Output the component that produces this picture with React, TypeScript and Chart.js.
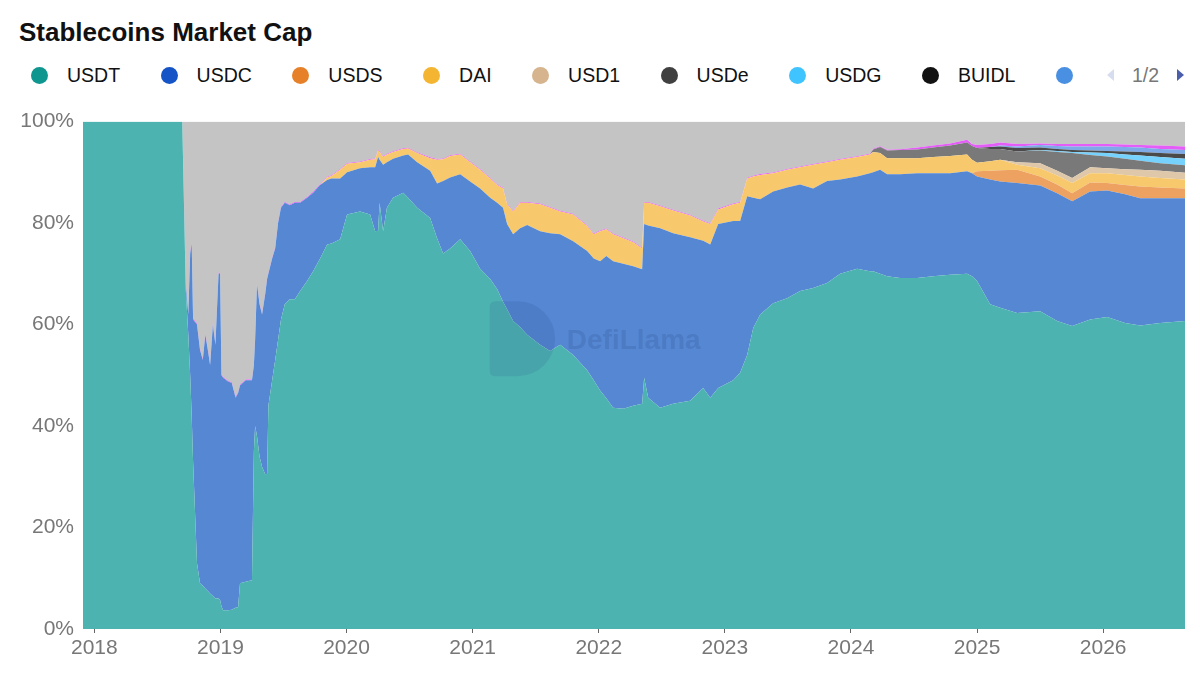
import React, { useEffect, useRef } from "react";
import { Chart, registerables } from "chart.js";

Chart.register(...registerables);

const FONT = '"Liberation Sans", Arial, Helvetica, sans-serif';

// x positions as decimal years
const years = [
  2017.91, 2018.697, 2018.725, 2018.745, 2018.76, 2018.772, 2018.783, 2018.814, 2018.838, 2018.86,
  2018.88, 2018.9, 2018.918, 2018.94, 2018.96, 2018.985, 2018.997, 2019.008, 2019.021, 2019.06,
  2019.09, 2019.12, 2019.14, 2019.155, 2019.2, 2019.25, 2019.265, 2019.275, 2019.29, 2019.31,
  2019.33, 2019.355, 2019.37, 2019.38, 2019.41, 2019.434, 2019.457, 2019.48, 2019.51, 2019.55,
  2019.59, 2019.632, 2019.687, 2019.735, 2019.79, 2019.846, 2019.88, 2019.949, 2020.004, 2020.107,
  2020.187, 2020.227, 2020.25, 2020.262, 2020.29, 2020.32, 2020.369, 2020.449, 2020.488, 2020.56,
  2020.663, 2020.718, 2020.766, 2020.821, 2020.901, 2020.98, 2021.059, 2021.139, 2021.194, 2021.241,
  2021.273, 2021.321, 2021.376, 2021.432, 2021.535, 2021.614, 2021.694, 2021.797, 2021.908, 2021.96,
  2022.011, 2022.06, 2022.114, 2022.194, 2022.273, 2022.344, 2022.36, 2022.392, 2022.487, 2022.59,
  2022.725, 2022.828, 2022.884, 2022.947, 2023.066, 2023.121, 2023.177, 2023.225, 2023.28, 2023.383,
  2023.494, 2023.597, 2023.7, 2023.811, 2023.914, 2024.049, 2024.15, 2024.176, 2024.231, 2024.287,
  2024.39, 2024.525, 2024.651, 2024.786, 2024.921, 2024.96, 2025.0, 2025.104, 2025.183, 2025.318,
  2025.5, 2025.635, 2025.754, 2025.897, 2026.031, 2026.174, 2026.293, 2026.452, 2026.649,
];

const xMin = 2017.91;
const xMax = 2026.649;
const yearTicks = [2018, 2019, 2020, 2021, 2022, 2023, 2024, 2025, 2026];
const percentTicks = [0, 20, 40, 60, 80, 100];

// shares in %
const USDT = [
  100, 100, 67, 58, 50, 42, 33, 13, 9, 8.5,
  8, 7.5, 7, 6.5, 6, 6, 5.7, 4.5, 3.7, 3.7,
  3.8, 4.2, 4.3, 9, 9.3, 9.6, 35, 40, 38, 34,
  32, 30.5, 30.6, 44, 49, 53, 57, 61, 64, 65,
  65, 66.6, 68.6, 70.5, 73, 75.8, 76, 76.8, 81.7, 82.3,
  81.7, 78.4, 78.5, 84, 78.4, 83, 85, 86, 85, 83,
  81, 77, 74, 75, 76.8, 74.5, 71, 69, 67, 64.5,
  63, 60.7, 59.5, 58, 56, 54.8, 56, 54, 51, 49,
  47, 45.5, 43.6, 43.4, 44, 44.4, 49.5, 45.6, 43.6, 44.4,
  45, 47.5, 45.6, 47.5, 49, 50.5, 54, 59.3, 62, 64.2,
  65.2, 66.6, 67.2, 68.2, 70, 71, 70.5, 70.5, 70, 69.5,
  69.2, 69.2, 69.5, 69.8, 70, 69.5, 68.6, 64, 63.3, 62.3,
  62.6, 60.7, 59.7, 61, 61.5, 60.3, 59.8, 60.3, 60.7,
];

const USDC = [
  0, 0, 1, 4, 24, 34, 28, 47, 46, 44.5,
  50, 47.5, 45, 53.5, 50, 64, 64.3, 45.5, 45.8, 45.1,
  44.7, 41.4, 42.2, 39, 39.7, 39.4, 17, 17, 30, 30,
  30, 35.5, 38.4, 26, 24, 22, 23, 22, 20, 18.5,
  19, 17.4, 16.4, 15.5, 14.5, 12.7, 12.8, 12, 8.3, 8.5,
  9.3, 12.6, 14.5, 8.5, 13.1, 9, 7.7, 7.3, 8.5, 9,
  9.3, 10.8, 14.3, 14, 12.8, 13.7, 15.8, 16, 17, 18.5,
  16.8, 17.1, 19.5, 21.6, 22.4, 23.2, 21.8, 22.4, 23.5, 24,
  25.5, 28, 28.9, 28.6, 27.5, 26.5, 30.3, 33.9, 35.4, 33.6,
  32.2, 29, 30.2, 32.3, 31.4, 29.9, 31.3, 25.7, 22.7, 22,
  21.8, 21, 19.6, 20.1, 18.6, 18.2, 19.3, 19.5, 20.5, 20.1,
  20.4, 20.6, 20.3, 20, 20.2, 20.3, 20.6, 24.6, 24.9, 25.6,
  24.8, 25.2, 24.6, 25.2, 24.9, 25.4, 25.1, 24.6, 24.2,
];

// series that only exist for the most recent dates (earlier dates are zero)
const USDS_RECENT = [1, 1.7, 2.2, 2.6, 1.8, 1.7, 1.6, 1.8, 1.5, 1.8, 2.3, 2.1, 1.9];
const DAI_RECENT = [
  0.5, 0.5, 1.7, 1.7, 1.2, 1.5, 1.6, 1.3, 1.5, 1.5,
  1.5, 1.3, 1.3, 1.2, 1.8, 2.5, 4.7, 4.3, 4.2, 3.9,
  3.8, 3.7, 3.8, 3.5, 3.8, 3.9, 4.5, 5, 4.4, 5.3,
  5, 4.5, 5.3, 4.9, 4.8, 5.9, 5.3, 5.3, 5, 4.7,
  4.1, 4.2, 4.5, 4.3, 4.5, 4.3, 3.8, 4, 2.9, 3.3,
  3.6, 3.5, 4.2, 4.8, 3.6, 3.5, 3.4, 4.7, 3.7, 3.9,
  3.8, 3.7, 4, 3.3, 3.2, 3.2, 3, 3.2, 3.4, 3.3,
  2.7, 1.7, 1.9, 2.1, 1, 1.6, 1.8, 2, 1.8, 1.9,
  2, 2, 1.9, 1.8,
];
const USD1_RECENT = [0.5, 1, 0.9, 1, 1.2, 1, 1.1, 1.3, 1.4, 1.3];
const USDE_RECENT = [
  0.5, 1.2, 1.5, 1.6, 1.7, 1.9, 2.1, 2.4, 2.7, 2.9,
  2.4, 2.1, 2.1, 2.5, 3.7, 4.9, 2.4, 2.3, 2.1, 1.8,
  1.5, 1.5,
];
const USDG_RECENT = [0.1, 0.2, 0.2, 0.5, 0.7, 0.8, 1, 1.2, 1.3];
const BUIDL_RECENT = [0.4, 0.5, 0.7, 0.5, 0.4, 0.4, 0.4, 0.4, 0.6, 0.7, 0.8, 0.9];
const PYUSD_RECENT = [0.2, 0.3, 0.5, 0.6, 0.7, 0.8, 0.9, 0.9, 0.9, 0.8, 0.8];

const FDUSD = [
  0, 0,
  0.2, 0.2, 0.2, 0.2, 0.2, 0.2, 0.2, 0.2, 0.2, 0.2, 0.2, 0.2, 0.2, 0.2, 0.2,
  0.15, 0.15, 0.15, 0.15, 0.15, 0.15, 0.15, 0.15, 0.15, 0.15,
  0.15, 0.15, 0.15, 0.15, 0.15, 0.15, 0.15, 0.15, 0.15, 0.15,
  0.15, 0.15, 0.15, 0.15, 0.15, 0.15, 0.15, 0.15, 0.15, 0.15,
  0.15, 0.15, 0.15, 0.15, 0.15, 0.15, 0.15, 0.15, 0.15, 0.15,
  0.15, 0.15, 0.15, 0.15, 0.15, 0.15, 0.15, 0.15, 0.15, 0.15,
  0.15, 0.15, 0.15, 0.15, 0.15, 0.15, 0.15, 0.15, 0.15, 0.15,
  0.15, 0.15, 0.15, 0.15, 0.15, 0.15, 0.15, 0.15, 0.15, 0.15,
  0.15, 0.15, 0.15, 0.15, 0.15, 0.15, 0.15, 0.15, 0.15, 0.15,
  0.15, 0.15, 0.15, 0.15, 0.15, 0.15, 0.15, 0.15, 0.15, 0.15,
  0.15, 0.15, 0.15, 0.15,
  0.4, 0.4, 0.4, 0.5, 0.4, 0.6, 0.6, 0.6, 0.5, 0.3, 0.4, 0.5, 0.5, 0.5, 0.5, 0.5, 0.7, 0.7,
];

const OTHERS = [
  0, 0, 31.8, 37.8, 25.8, 23.8, 38.8, 39.8, 44.8, 46.8,
  41.8, 44.8, 47.8, 39.8, 43.8, 29.8, 29.8, 49.85, 50.35, 51.05,
  51.35, 54.25, 53.35, 51.85, 50.85, 50.85, 47.85, 42.85, 31.85, 35.85,
  37.85, 33.85, 30.85, 29.85, 26.85, 24.85, 19.85, 16.85, 15.85, 16.35,
  15.85, 15.85, 14.85, 13.85, 12.35, 10.85, 10.55, 9.35, 8.15, 7.85,
  7.35, 7.25, 5.55, 5.85, 6.85, 6.35, 5.85, 5.25, 5.15, 6.05,
  7.05, 7.35, 7.25, 6.65, 6.35, 7.85, 9.35, 11.05, 12.35, 13.05,
  16.15, 17.55, 15.85, 15.85, 16.15, 16.85, 17.55, 18.15, 20.45, 22.05,
  21.45, 21.05, 22.05, 22.85, 23.65, 24.85, 15.85, 15.85, 16.55, 17.35,
  18.35, 19.55, 20.05, 17.15, 16.15, 15.85, 11.05, 10.65, 10.35, 10.05,
  9.35, 8.85, 8.35, 7.85, 7.35, 6.85, 6.35, 5.35, 4.85, 5.55,
  5.45, 5.1, 4.7, 4.3, 3.6, 4.4, 4.6, 4.4, 4.1, 4.4,
  4.3, 4.4, 4.4, 4.4, 4.4, 4.5, 4.6, 4.7, 4.9,
];

// align a recent-only series to the full date list (zero before it appears)
const alignRecent = (vals: number[]) =>
  years.map((_, i) => {
    const k = i - (years.length - vals.length);
    return k >= 0 ? vals[k] : 0;
  });

const SERIES = [
  { name: "USDT", values: USDT, fill: "#4DB3B1" },
  { name: "USDC", values: USDC, fill: "#5587D3" },
  { name: "USDS", values: alignRecent(USDS_RECENT), fill: "#EEA262" },
  { name: "DAI", values: alignRecent(DAI_RECENT), fill: "#F8C96C" },
  { name: "USD1", values: alignRecent(USD1_RECENT), fill: "#DFC8AA" },
  { name: "USDe", values: alignRecent(USDE_RECENT), fill: "#797979" },
  { name: "USDG", values: alignRecent(USDG_RECENT), fill: "#76D2FD" },
  { name: "BUIDL", values: alignRecent(BUIDL_RECENT), fill: "#4A4A4A" },
  { name: "PYUSD", values: alignRecent(PYUSD_RECENT), fill: "#7FAAE8" },
  { name: "FDUSD", values: FDUSD, fill: "#E35DF6" },
  { name: "Others", values: OTHERS, fill: "#C4C4C4" },
];

// legend page 1 (the 9th label is cut off in the original)
const LEGEND_ITEMS = [
  { label: "USDT", color: "#0F968E" },
  { label: "USDC", color: "#1454C6" },
  { label: "USDS", color: "#E6812A" },
  { label: "DAI", color: "#F4B632" },
  { label: "USD1", color: "#D5B48E" },
  { label: "USDe", color: "#404040" },
  { label: "USDG", color: "#40C4FF" },
  { label: "BUIDL", color: "#121212" },
  { label: "", color: "#4A90E2" },
];

const watermarkPlugin = {
  id: "watermark",
  afterDatasetsDraw(chart: any) {
    const { ctx, chartArea: a } = chart;
    const w = a.right - a.left;
    const h = a.bottom - a.top;
    const L = a.left + w * 0.369;
    const T = a.top + h * 0.354;
    const lh = 75;
    const r = lh / 2;
    ctx.save();
    ctx.fillStyle = "rgba(30,60,120,0.12)";
    ctx.beginPath();
    ctx.moveTo(L + 6, T);
    ctx.lineTo(L + 28, T);
    ctx.arc(L + 28, T + r, r, -Math.PI / 2, Math.PI / 2);
    ctx.lineTo(L + 6, T + lh);
    ctx.quadraticCurveTo(L, T + lh, L, T + lh - 6);
    ctx.lineTo(L, T + 6);
    ctx.quadraticCurveTo(L, T, L + 6, T);
    ctx.closePath();
    ctx.fill();
    ctx.font = `bold 28px ${FONT}`;
    ctx.textBaseline = "middle";
    ctx.fillStyle = "rgba(30,60,120,0.16)";
    ctx.fillText("DefiLlama", a.left + w * 0.439, a.top + h * 0.433);
    ctx.restore();
  },
};

function StackChart() {
  const ref = useRef<HTMLCanvasElement | null>(null);
  useEffect(() => {
    if (!ref.current) return;
    const datasets = SERIES.map((s, i) => ({
      label: s.name,
      data: years.map((x, j) => ({ x, y: s.values[j] })),
      backgroundColor: s.fill,
      borderColor: "rgba(0,0,0,0)",
      borderWidth: 0,
      pointRadius: 0,
      pointHoverRadius: 0,
      tension: 0,
      fill: i === 0 ? "origin" : "-1",
    }));
    const chart = new Chart(ref.current, {
      type: "line",
      data: { datasets },
      plugins: [watermarkPlugin],
      options: {
        animation: false,
        responsive: false,
        maintainAspectRatio: false,
        layout: { padding: { top: 20, right: 15, bottom: 0, left: 0 } },
        plugins: {
          legend: { display: false },
          tooltip: { enabled: false },
          title: { display: false },
        },
        scales: {
          x: {
            type: "linear",
            min: xMin,
            max: xMax,
            afterBuildTicks: (s: any) => {
              s.ticks = yearTicks.map((v) => ({ value: v }));
            },
            afterFit: (s: any) => {
              s.height = 46;
            },
            ticks: {
              callback: (v: any) => String(v),
              font: { size: 21, family: FONT },
              color: "#777777",
              padding: 3,
              maxRotation: 0,
              autoSkip: false,
            },
            grid: {
              display: true,
              drawOnChartArea: false,
              drawTicks: true,
              tickLength: 4,
              color: "#666666",
            },
            border: { display: false },
          },
          y: {
            stacked: true,
            min: 0,
            max: 100,
            afterBuildTicks: (s: any) => {
              s.ticks = percentTicks.map((v) => ({ value: v }));
            },
            afterFit: (s: any) => {
              s.width = 83;
            },
            ticks: {
              callback: (v: any) => `${v}%`,
              font: { size: 21, family: FONT },
              color: "#777777",
              padding: 9,
            },
            grid: { display: false, drawTicks: false },
            border: { display: false },
          },
        },
      } as any,
    });
    return () => chart.destroy();
  }, []);
  return (
    <canvas
      ref={ref}
      width={1200}
      height={575}
      style={{ position: "absolute", left: 0, top: 100, width: 1200, height: 575 }}
    />
  );
}

export default function App() {
  return (
    <div
      style={{
        position: "absolute",
        left: 0,
        top: 0,
        width: 1200,
        height: 675,
        background: "#ffffff",
        fontFamily: FONT,
        overflow: "hidden",
      }}
    >
      <div
        style={{
          position: "absolute",
          left: 19,
          top: 17,
          fontSize: 26,
          lineHeight: "30px",
          fontWeight: 700,
          color: "#111",
          whiteSpace: "nowrap",
        }}
      >
        Stablecoins Market Cap
      </div>
      <div
        style={{
          position: "absolute",
          left: 31,
          top: 65,
          height: 20,
          display: "flex",
          alignItems: "center",
          whiteSpace: "nowrap",
        }}
      >
        {LEGEND_ITEMS.map((it, i) => (
          <div key={i} style={{ display: "flex", alignItems: "center", marginRight: 40.5 }}>
            <span
              style={{
                display: "inline-block",
                width: 17,
                height: 17,
                borderRadius: "50%",
                background: it.color,
              }}
            />
            {it.label ? (
              <span style={{ marginLeft: 19, fontSize: 19.5, lineHeight: "20px", color: "#111" }}>
                {it.label}
              </span>
            ) : null}
          </div>
        ))}
      </div>
      <div
        style={{
          position: "absolute",
          left: 1107,
          top: 69,
          width: 0,
          height: 0,
          borderTop: "6px solid transparent",
          borderBottom: "6px solid transparent",
          borderRight: "7px solid #d6ddef",
        }}
      />
      <div
        style={{
          position: "absolute",
          left: 1132,
          top: 65,
          fontSize: 19.5,
          lineHeight: "20px",
          color: "#777",
        }}
      >
        1/2
      </div>
      <div
        style={{
          position: "absolute",
          left: 1177,
          top: 69,
          width: 0,
          height: 0,
          borderTop: "6px solid transparent",
          borderBottom: "6px solid transparent",
          borderLeft: "7px solid #4b5eac",
        }}
      />
      <StackChart />
    </div>
  );
}
